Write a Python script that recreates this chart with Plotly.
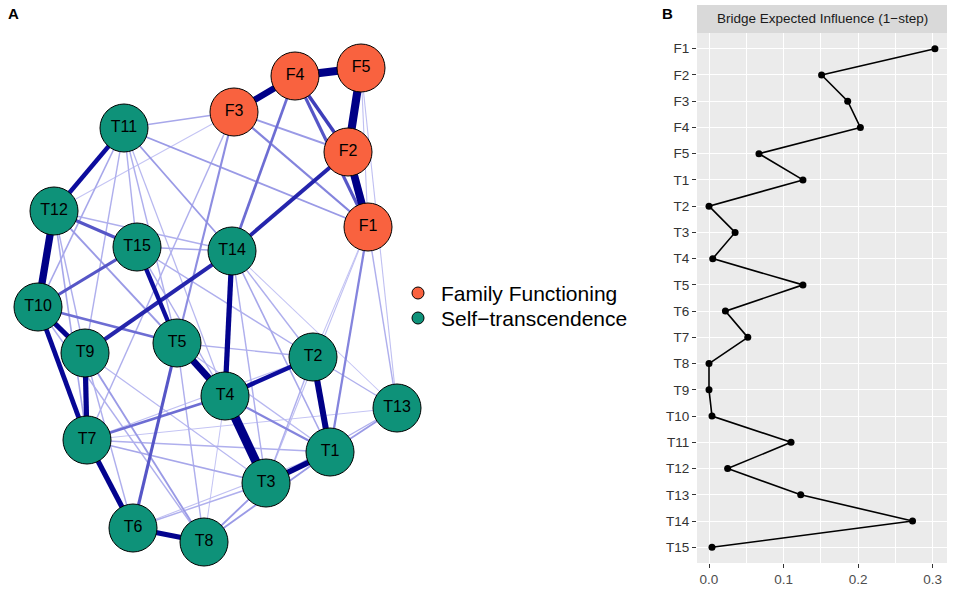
import plotly.graph_objects as go

# ---------------- Data ----------------
# Network nodes (layout positions, pixel-like units)
node_names = ["F1", "F2", "F3", "F4", "F5",
              "T1", "T2", "T3", "T4", "T5", "T6", "T7", "T8",
              "T9", "T10", "T11", "T12", "T13", "T14", "T15"]
node_group = ["Family Functioning"] * 5 + ["Self\u2212transcendence"] * 15
node_x = [368, 348, 234, 295, 361,
          330, 313, 266, 225, 177, 133, 87, 204,
          85, 38, 124, 54, 397, 232, 137]
node_y = [227, 152, 112, 76, 68,
          452, 357, 483, 396, 343, 528, 440, 542,
          353, 307, 128, 211, 408, 251, 247]

# Edges (from, to, weight)
edge_from = ["F4", "F5", "F2", "F4", "F4", "F4", "F3", "F3", "F5", "F5",
             "F2", "F3", "F3", "F3", "F4", "F1", "F1", "F1", "F1", "T11",
             "T11",
             "T11", "T12", "T10", "T10", "T9", "T7", "T6", "T5", "T4", "T3",
             "T2", "T2", "T14", "T15", "T14", "T12", "T15", "T10", "T5", "T4",
             "T4", "T3", "T1", "T1", "T3", "T11", "T11", "T11", "T11", "T11",
             "T11", "T12", "T14", "T14", "T14", "T14", "T15", "T15", "T12", "T12",
             "T12", "T10", "T9", "T9", "T9", "T7", "T7", "T7", "T7", "T5",
             "T5", "T6", "T6", "T2", "T2", "T13", "T5", "T4"]
edge_to = ["F5", "F2", "F1", "F3", "F2", "F1", "F2", "F1", "F1", "T13",
           "T14", "T12", "T5", "T7", "T14", "T1", "T13", "T3", "T2", "F1",
           "F3",
           "T12", "T10", "T9", "T7", "T7", "T6", "T8", "T4", "T3", "T1",
           "T1", "T4", "T4", "T5", "T9", "T15", "T10", "T5", "T6", "T7",
           "T1", "T8", "T8", "T13", "T13", "T14", "T15", "T10", "T9", "T5",
           "T4", "T14", "T15", "T2", "T3", "T1", "T2", "T4", "T5", "T9",
           "T7", "T8", "T8", "T6", "T3", "T1", "T3", "T2", "T13", "T2",
           "T1", "T3", "T1", "T13", "T3", "T14", "T8", "T8"]
edge_w = [0.9, 0.9, 0.85, 0.7, 0.35, 0.3, 0.15, 0.2, 0.06, 0.06,
          0.4, 0.05, 0.18, 0.1, 0.25, 0.2, 0.1, 0.06, 0.05, 0.15,
          0.12,
          0.45, 0.8, 0.55, 0.5, 0.55, 0.55, 0.55, 0.75, 1.0, 0.6,
          0.65, 0.45, 0.55, 0.45, 0.4, 0.3, 0.3, 0.25, 0.3, 0.25,
          0.2, 0.15, 0.15, 0.15, 0.1, 0.15, 0.1, 0.12, 0.1, 0.1,
          0.08, 0.1, 0.12, 0.1, 0.1, 0.12, 0.1, 0.1, 0.15, 0.1,
          0.12, 0.1, 0.15, 0.1, 0.08, 0.1, 0.12, 0.06, 0.05, 0.1,
          0.08, 0.1, 0.06, 0.1, 0.1, 0.05, 0.1, 0.05]

# Bridge expected influence (1-step)
bei_nodes = ["F1", "F2", "F3", "F4", "F5", "T1", "T2", "T3", "T4", "T5",
             "T6", "T7", "T8", "T9", "T10", "T11", "T12", "T13", "T14", "T15"]
bei_values = [0.303, 0.151, 0.186, 0.203, 0.067, 0.126, 0.0, 0.035, 0.005, 0.126,
              0.022, 0.052, 0.0, 0.0, 0.004, 0.110, 0.025, 0.123, 0.273, 0.004]
x_ticks = [0.0, 0.1, 0.2, 0.3]

# ---------------- Figure ----------------
W, H = 957, 591
fig = go.Figure()

idx = {n: i for i, n in enumerate(node_names)}


def edge_style(w):
    s = min(1.0, w)
    width = 0.6 + 8.4 * s
    op = min(1.0, 0.18 + 1.8 * s)
    base_lo = (40, 40, 220)
    base_hi = (0, 0, 135)
    t = min(1.0, s / 0.6)
    c = [base_lo[k] + (base_hi[k] - base_lo[k]) * t for k in range(3)]
    c = [int(round(op * c[k] + (1 - op) * 255)) for k in range(3)]
    return width, "rgb(%d,%d,%d)" % tuple(c)


order = sorted(range(len(edge_w)), key=lambda i: edge_w[i])
for i in order:
    a, b = idx[edge_from[i]], idx[edge_to[i]]
    wdt, col = edge_style(edge_w[i])
    fig.add_trace(go.Scatter(
        x=[node_x[a], node_x[b]], y=[node_y[a], node_y[b]],
        mode="lines", line=dict(color=col, width=wdt),
        hoverinfo="skip", showlegend=False, xaxis="x", yaxis="y"))

group_colors = {"Family Functioning": "#F9623F", "Self\u2212transcendence": "#0E9279"}
groups = list(group_colors.keys())
for g, col in group_colors.items():
    ids = [i for i, gg in enumerate(node_group) if gg == g]
    fig.add_trace(go.Scatter(
        x=[node_x[i] for i in ids], y=[node_y[i] for i in ids],
        text=[node_names[i] for i in ids],
        mode="markers+text", textposition="middle center",
        textfont=dict(family="Liberation Sans, Arial", size=16, color="black"),
        marker=dict(size=48, color=col, line=dict(color="black", width=1)),
        showlegend=False, hoverinfo="text", name=g, xaxis="x", yaxis="y"))

# Legend (keys drawn in the network panel)
leg_x, leg_y0, leg_dy = 418, 293, 25
leg_y = [leg_y0 + k * leg_dy for k in range(len(groups))]
fig.add_trace(go.Scatter(
    x=[leg_x] * len(groups), y=leg_y,
    mode="markers",
    marker=dict(size=12, color=[group_colors[g] for g in groups],
                line=dict(color="black", width=1)),
    showlegend=False, hoverinfo="skip", xaxis="x", yaxis="y"))
legend_annots = [
    dict(text=g, xref="x", yref="y", x=leg_x + 21, y=yy, showarrow=False,
         xanchor="left", yanchor="middle",
         font=dict(family="Liberation Sans, Arial", size=21, color="black"))
    for g, yy in zip(groups, leg_y)
]

# Right panel: bridge expected influence
fig.add_trace(go.Scatter(
    x=bei_values, y=bei_nodes, mode="lines+markers",
    line=dict(color="black", width=1.6),
    marker=dict(color="black", size=7),
    showlegend=False, xaxis="x2", yaxis="y2"))

px0, px1 = 697, 947
py0, py1 = 33, 563
y2dom = [(H - py1) / H, (H - py0) / H]

fig.update_layout(
    width=W, height=H,
    margin=dict(l=0, r=0, t=0, b=0),
    paper_bgcolor="white", plot_bgcolor="white",
    font=dict(family="Liberation Sans, Arial", color="black"),
    showlegend=False,
    xaxis=dict(domain=[0, 660 / W], range=[0, 660], visible=False,
               showgrid=False, zeroline=False, fixedrange=True),
    yaxis=dict(domain=[0, 1], range=[H, 0], visible=False,
               showgrid=False, zeroline=False, fixedrange=True),
    xaxis2=dict(domain=[px0 / W, px1 / W], anchor="y2",
                range=[-0.0161, 0.3192], tickvals=x_ticks,
                ticktext=["%.1f" % v for v in x_ticks],
                showgrid=True, gridcolor="white", gridwidth=1.3,
                minor=dict(dtick=0.05, tick0=0, showgrid=True,
                           gridcolor="white", gridwidth=0.6, ticklen=0),
                zeroline=False, ticks="outside", ticklen=4,
                tickcolor="#333333", tickwidth=1,
                tickfont=dict(size=13.5, color="#4D4D4D"),
                showline=False),
    yaxis2=dict(domain=y2dom, anchor="x2", type="category",
                categoryorder="array", categoryarray=bei_nodes,
                range=[len(bei_nodes) - 0.4, -0.6],
                showgrid=True, gridcolor="white", gridwidth=1.3,
                zeroline=False, ticks="outside", ticklen=4,
                tickcolor="#333333", tickwidth=1,
                tickfont=dict(size=13.5, color="#333333"),
                showline=False),
    shapes=[
        dict(type="rect", xref="paper", yref="paper",
             x0=px0 / W, x1=px1 / W, y0=y2dom[0], y1=y2dom[1],
             fillcolor="#EBEBEB", line=dict(width=0), layer="below"),
        dict(type="rect", xref="paper", yref="paper",
             x0=px0 / W, x1=px1 / W, y0=y2dom[1], y1=(H - 5) / H,
             fillcolor="#D9D9D9", line=dict(width=0), layer="below"),
    ],
    annotations=legend_annots + [
        dict(text="Bridge Expected Influence (1\u2212step)", xref="paper", yref="paper",
             x=(px0 + px1) / 2 / W, y=(H - 19) / H, showarrow=False,
             xanchor="center", yanchor="middle",
             font=dict(size=13.5, color="#1A1A1A")),
        dict(text="<b>A</b>", xref="paper", yref="paper", x=6 / W, y=(H - 14) / H,
             showarrow=False, xanchor="left", yanchor="middle",
             font=dict(size=15, color="black")),
        dict(text="<b>B</b>", xref="paper", yref="paper", x=660 / W, y=(H - 13) / H,
             showarrow=False, xanchor="left", yanchor="middle",
             font=dict(size=15, color="black")),
    ],
)

fig.write_html("out.html", config={"displayModeBar": False},
               post_script="document.body.style.margin='0px';document.body.style.overflow='hidden';")
